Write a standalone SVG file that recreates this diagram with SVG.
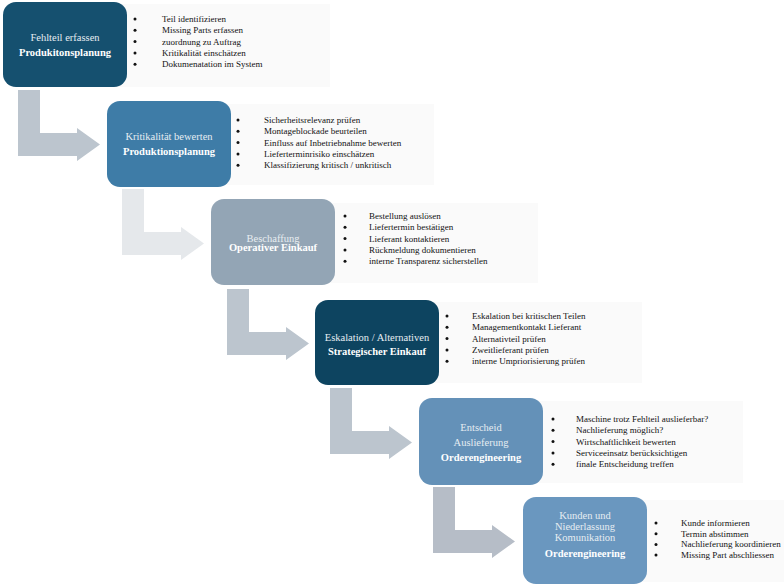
<svg xmlns="http://www.w3.org/2000/svg" width="784" height="586" viewBox="0 0 784 586">
<defs>
<style>
.panel{fill:#fafafa}
.box{stroke:none}
.t{font-family:"Liberation Serif","Times New Roman",serif;font-size:10.5px;text-anchor:middle;fill:#e6edf2}
.tb{font-family:"Liberation Serif","Times New Roman",serif;font-size:10.5px;font-weight:bold;text-anchor:middle;fill:#ffffff}
.li{font-family:"Liberation Serif","Times New Roman",serif;font-size:9px;fill:#111111}
.bul{fill:#111111}
.arr{fill:#bcc5ce}
</style>
</defs>
<rect width="784" height="586" fill="#ffffff"/>
<g id="panels">
<rect class="panel" x="65" y="4" width="265" height="83"/>
<rect class="panel" x="169" y="104" width="265" height="81"/>
<rect class="panel" x="273" y="203" width="265" height="80"/>
<rect class="panel" x="377" y="302" width="265" height="81"/>
<rect class="panel" x="481" y="401" width="262" height="82"/>
<rect class="panel" x="585" y="500" width="199" height="82"/>
</g>
<g id="connectors">
<path class="arr" d="M18,90 h22 v43 h37 v-5 l23,16.5 l-23,16.5 v-5 h-59 z"/>
<path class="arr" style="fill:#e5e8eb" d="M122,189 h22 v43 h37 v-5 l23,16.5 l-23,16.5 v-5 h-59 z"/>
<path class="arr" d="M227,289 h22 v43 h37 v-5 l23,16.5 l-23,16.5 v-5 h-59 z"/>
<path class="arr" d="M330,388 h22 v43 h37 v-5 l23,16.5 l-23,16.5 v-5 h-59 z"/>
<path class="arr" style="fill:#b6bdc7" d="M433,487 h22 v43 h37 v-5 l23,16.5 l-23,16.5 v-5 h-59 z"/>
</g>
<g id="node1">
<rect class="box" x="3" y="2" width="124" height="85" rx="13" fill="#15506f"/>
<text class="t" x="65" y="40.5">Fehlteil erfassen</text>
<text class="tb" x="65" y="55.5">Produkitonsplanung</text>
<g class="bul"><circle cx="135" cy="19" r="1.5"/><circle cx="135" cy="30.3" r="1.5"/><circle cx="135" cy="41.6" r="1.5"/><circle cx="135" cy="52.9" r="1.5"/><circle cx="135" cy="64.2" r="1.5"/></g>
<text class="li" x="162" y="22">Teil identifizieren</text>
<text class="li" x="162" y="33.3">Missing Parts erfassen</text>
<text class="li" x="162" y="44.6">zuordnung zu Auftrag</text>
<text class="li" x="162" y="55.9">Kritikalität einschätzen</text>
<text class="li" x="162" y="67.2">Dokumenatation im System</text>
</g>
<g id="node2">
<rect class="box" x="107" y="101" width="124" height="86" rx="13" fill="#3e7ca7"/>
<text class="t" x="169" y="139.5">Kritikalität bewerten</text>
<text class="tb" x="169" y="154.5">Produktionsplanung</text>
<g class="bul"><circle cx="238" cy="120" r="1.5"/><circle cx="238" cy="131.3" r="1.5"/><circle cx="238" cy="142.6" r="1.5"/><circle cx="238" cy="153.9" r="1.5"/><circle cx="238" cy="165.2" r="1.5"/></g>
<text class="li" x="264" y="123">Sicherheitsrelevanz prüfen</text>
<text class="li" x="264" y="134.3">Montageblockade beurteilen</text>
<text class="li" x="264" y="145.6">Einfluss auf Inbetriebnahme bewerten</text>
<text class="li" x="264" y="156.9">Lieferterminrisiko einschätzen</text>
<text class="li" x="264" y="168.2">Klassifizierung kritisch / unkritisch</text>
</g>
<g id="node3">
<rect class="box" x="211" y="199" width="124" height="86" rx="13" fill="#93a5b5"/>
<text class="t" x="273" y="241.5" style="fill:#e8edf1">Beschaffung</text>
<text class="tb" x="273" y="251">Operativer Einkauf</text>
<g class="bul"><circle cx="345" cy="216" r="1.5"/><circle cx="345" cy="227.3" r="1.5"/><circle cx="345" cy="238.6" r="1.5"/><circle cx="345" cy="249.9" r="1.5"/><circle cx="345" cy="261.2" r="1.5"/></g>
<text class="li" x="369" y="219">Bestellung auslösen</text>
<text class="li" x="369" y="230.3">Liefertermin bestätigen</text>
<text class="li" x="369" y="241.6">Lieferant kontaktieren</text>
<text class="li" x="369" y="252.9">Rückmeldung dokumentieren</text>
<text class="li" x="369" y="264.2">interne Transparenz sicherstellen</text>
</g>
<g id="node4">
<rect class="box" x="315" y="300" width="124" height="85" rx="13" fill="#0d4460"/>
<text class="t" x="377" y="340.5">Eskalation / Alternativen</text>
<text class="tb" x="377" y="354.5">Strategischer Einkauf</text>
<g class="bul"><circle cx="447" cy="316" r="1.5"/><circle cx="447" cy="327.3" r="1.5"/><circle cx="447" cy="338.6" r="1.5"/><circle cx="447" cy="349.9" r="1.5"/><circle cx="447" cy="361.2" r="1.5"/></g>
<text class="li" x="472" y="319">Eskalation bei kritischen Teilen</text>
<text class="li" x="472" y="330.3">Managementkontakt Lieferant</text>
<text class="li" x="472" y="341.6">Alternativteil prüfen</text>
<text class="li" x="472" y="352.9">Zweitlieferant prüfen</text>
<text class="li" x="472" y="364.2">interne Umpriorisierung prüfen</text>
</g>
<g id="node5">
<rect class="box" x="419" y="398" width="124" height="87" rx="13" fill="#6491b8"/>
<text class="t" x="481" y="430.5">Entscheid</text>
<text class="t" x="481" y="445.5">Auslieferung</text>
<text class="tb" x="481" y="460.5">Orderengineering</text>
<g class="bul"><circle cx="553" cy="419" r="1.5"/><circle cx="553" cy="430.3" r="1.5"/><circle cx="553" cy="441.6" r="1.5"/><circle cx="553" cy="452.9" r="1.5"/><circle cx="553" cy="464.2" r="1.5"/></g>
<text class="li" x="576" y="422">Maschine trotz Fehlteil auslieferbar?</text>
<text class="li" x="576" y="433.3">Nachlieferung möglich?</text>
<text class="li" x="576" y="444.6">Wirtschaftlichkeit bewerten</text>
<text class="li" x="576" y="455.9">Serviceeinsatz berücksichtigen</text>
<text class="li" x="576" y="467.2">finale Entscheidung treffen</text>
</g>
<g id="node6">
<rect class="box" x="523" y="497" width="124" height="87" rx="13" fill="#6a97bf"/>
<text class="t" x="585" y="518.5">Kunden und</text>
<text class="t" x="585" y="529.5">Niederlassung</text>
<text class="t" x="585" y="540.5">Komunikation</text>
<text class="tb" x="585" y="556.5">Orderengineering</text>
<g class="bul"><circle cx="656" cy="523" r="1.5"/><circle cx="656" cy="533.7" r="1.5"/><circle cx="656" cy="544.4" r="1.5"/><circle cx="656" cy="555.1" r="1.5"/></g>
<text class="li" x="681" y="526">Kunde informieren</text>
<text class="li" x="681" y="536.7">Termin abstimmen</text>
<text class="li" x="681" y="547.4">Nachlieferung koordinieren</text>
<text class="li" x="681" y="558.1">Missing Part abschliessen</text>
</g>
</svg>
